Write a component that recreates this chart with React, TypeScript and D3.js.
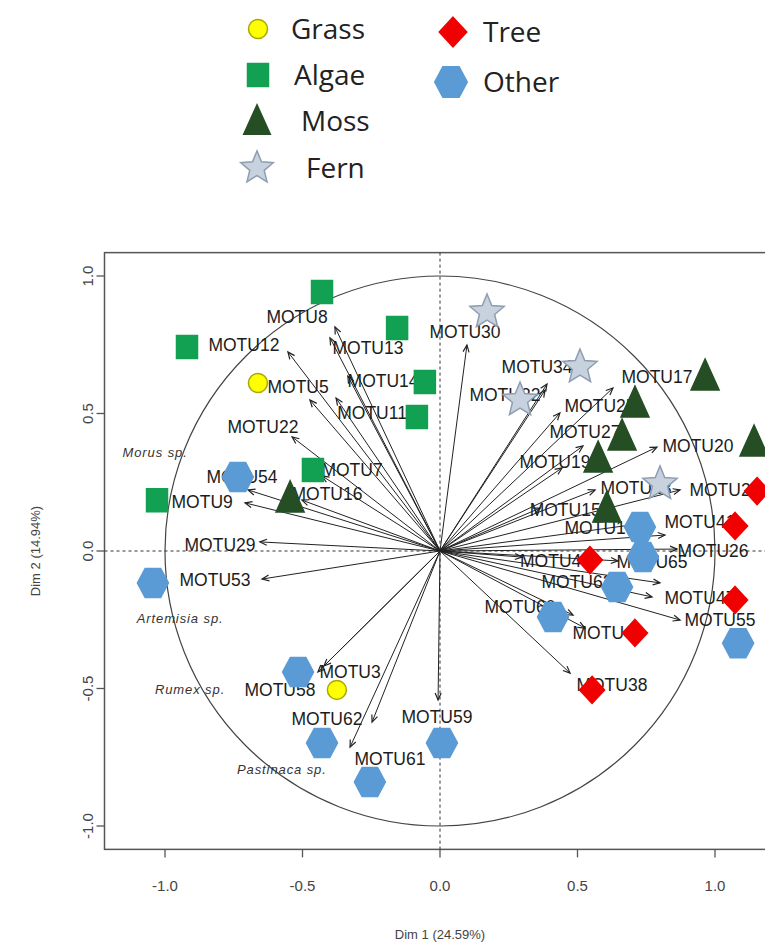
import React, { useEffect, useRef } from 'react';
import * as d3 from 'd3';

// Variable arrows (correlation circle): arrow tip and label centre, in Dim units
const motuNames = [
  'MOTU8', 'MOTU13', 'MOTU14', 'MOTU11', 'MOTU12', 'MOTU5', 'MOTU22', 'MOTU7', 'MOTU16', 'MOTU54',
  'MOTU9', 'MOTU29', 'MOTU53', 'MOTU30', 'MOTU34', 'MOTU32', 'MOTU17', 'MOTU25', 'MOTU27', 'MOTU19',
  'MOTU20', 'MOTU23', 'MOTU21', 'MOTU15', 'MOTU41', 'MOTU10', 'MOTU26', 'MOTU44', 'MOTU65', 'MOTU63',
  'MOTU47', 'MOTU55', 'MOTU60', 'MOTU40', 'MOTU38', 'MOTU59', 'MOTU61', 'MOTU62', 'MOTU3', 'MOTU58',
];
const tipX = [
  -0.382, -0.4, -0.335, -0.378, -0.553, -0.473, -0.538, -0.429, -0.502, -0.698,
  -0.709, -0.655, -0.647, 0.098, 0.389, 0.382, 0.629, 0.436, 0.52, 0.444,
  0.789, 0.564, 0.873, 0.364, 0.771, 0.818, 0.862, 0.298, 0.647, 0.8,
  0.771, 0.873, 0.484, 0.527, 0.473, -0.007, -0.327, -0.247, -0.444, -0.422,
];
const tipY = [
  0.815, 0.775, 0.636, 0.556, 0.724, 0.549, 0.415, 0.273, 0.185, 0.222,
  0.175, 0.033, -0.102, 0.749, 0.607, 0.585, 0.593, 0.502, 0.382, 0.302,
  0.378, 0.222, 0.222, 0.156, 0.105, 0.058, 0.007, -0.022, -0.036, -0.116,
  -0.167, -0.251, -0.233, -0.28, -0.444, -0.542, -0.713, -0.622, -0.44, -0.418,
];
const labelX = [
  -0.52, -0.262, -0.207, -0.247, -0.713, -0.516, -0.644, -0.32, -0.411, -0.72,
  -0.865, -0.8, -0.818, 0.091, 0.353, 0.236, 0.789, 0.582, 0.527, 0.418,
  0.938, 0.713, 1.036, 0.455, 0.945, 0.582, 0.993, 0.42, 0.771, 0.498,
  0.945, 1.018, 0.291, 0.611, 0.625, -0.011, -0.182, -0.411, -0.327, -0.582,
];
const labelY = [
  0.851, 0.738, 0.618, 0.502, 0.749, 0.596, 0.451, 0.295, 0.207, 0.269,
  0.178, 0.022, -0.105, 0.796, 0.669, 0.567, 0.633, 0.527, 0.433, 0.324,
  0.382, 0.229, 0.222, 0.149, 0.105, 0.084, 0.0, -0.036, -0.04, -0.113,
  -0.171, -0.251, -0.204, -0.298, -0.487, -0.604, -0.756, -0.611, -0.44, -0.505,
];

// plant type markers placed beside the arrows
const grassX = [-0.662, -0.375];
const grassY = [0.611, -0.505];
const algaeX = [-0.429, -0.92, -0.156, -0.055, -0.084, -0.462, -1.029];
const algaeY = [0.942, 0.742, 0.811, 0.615, 0.487, 0.295, 0.185];
const mossX = [0.964, 0.709, 0.662, 0.575, 1.142, -0.545, 0.607];
const mossY = [0.636, 0.538, 0.418, 0.338, 0.396, 0.193, 0.156];
const fernX = [0.171, 0.509, 0.291, 0.8];
const fernY = [0.869, 0.669, 0.549, 0.244];
const treeX = [1.153, 1.073, 0.545, 1.073, 0.709, 0.553];
const treeY = [0.218, 0.091, -0.033, -0.178, -0.298, -0.505];
const otherX = [-0.735, -1.044, -0.516, -0.429, -0.255, 0.007, 0.411, 0.644, 0.727, 0.738, 1.084];
const otherY = [0.269, -0.116, -0.44, -0.698, -0.84, -0.698, -0.24, -0.131, 0.087, -0.022, -0.335];

const categories = ['Grass', 'Algae', 'Moss', 'Fern', 'Tree', 'Other'];

// supplementary species names (italic)
const speciesNames = ['Morus sp.', 'Artemisia sp.', 'Rumex sp.', 'Pastinaca sp.'];
const speciesX = [-1.036, -0.945, -0.909, -0.575];
const speciesY = [0.36, -0.244, -0.505, -0.793];

const tickValues = [-1, -0.5, 0, 0.5, 1];
const xTitle = 'Dim 1 (24.59%)';
const yTitle = 'Dim 2 (14.94%)';

const styles: Record<string, { fill: string; stroke: string }> = {
  Grass: { fill: '#ffff00', stroke: '#a9a900' },
  Algae: { fill: '#12a052', stroke: '#12a052' },
  Moss: { fill: '#254e24', stroke: '#254e24' },
  Fern: { fill: '#c7d2de', stroke: '#8e9db0' },
  Tree: { fill: '#f00000', stroke: '#f00000' },
  Other: { fill: '#5b9bd5', stroke: '#5b9bd5' },
};

function shapePath(kind: string, k: number): string {
  if (kind === 'Grass') {
    return d3.symbol(d3.symbolCircle, Math.PI * 9.5 * 9.5 * k * k)() as string;
  }
  if (kind === 'Algae') {
    const w = 10.5 * k, h = 11.5 * k;
    return `M${-w},${-h}H${w}V${h}H${-w}Z`;
  }
  if (kind === 'Moss') {
    return `M0,${-17 * k}L${14 * k},${14 * k}L${-14 * k},${14 * k}Z`;
  }
  if (kind === 'Fern') {
    const pts: string[] = [];
    for (let i = 0; i < 10; i++) {
      const r = (i % 2 === 0 ? 18 : 8) * k;
      const a = -Math.PI / 2 + (i * Math.PI) / 5;
      pts.push(`${r * Math.cos(a)},${r * Math.sin(a)}`);
    }
    return `M${pts.join('L')}Z`;
  }
  if (kind === 'Tree') {
    const rx = 12.5 * k, ry = 13.5 * k;
    return `M0,${-ry}L${rx},0L0,${ry}L${-rx},0Z`;
  }
  const rx = 15.5 * k, ry = 14.5 * k;
  return `M${rx},0L${rx / 2},${-ry}L${-rx / 2},${-ry}L${-rx},0L${-rx / 2},${ry}L${rx / 2},${ry}Z`;
}

const App: React.FC = () => {
  const ref = useRef<SVGSVGElement>(null);

  useEffect(() => {
    const svg = d3.select(ref.current);
    svg.selectAll('*').remove();

    const x = d3.scaleLinear().domain([-1, 1]).range([165, 715]);
    const y = d3.scaleLinear().domain([-1, 1]).range([826, 276]);
    const font = '"Liberation Sans", Arial, sans-serif';

    svg.append('rect').attr('width', 765).attr('height', 948).attr('fill', '#fff');

    // arrowhead
    svg
      .append('defs')
      .append('marker')
      .attr('id', 'arr')
      .attr('markerUnits', 'userSpaceOnUse')
      .attr('markerWidth', 12)
      .attr('markerHeight', 12)
      .attr('refX', 0)
      .attr('refY', 0)
      .attr('viewBox', '-10 -6 12 12')
      .attr('orient', 'auto')
      .append('path')
      .attr('d', 'M-7,-3L0,0L-7,3')
      .attr('fill', 'none')
      .attr('stroke', '#222')
      .attr('stroke-width', 1.2);

    // plot frame
    const x0 = x(-1.22), x1 = x(1.24), y0 = y(1.085), y1 = y(-1.085);
    svg
      .append('rect')
      .attr('x', x0)
      .attr('y', y0)
      .attr('width', x1 - x0)
      .attr('height', y1 - y0)
      .attr('fill', 'none')
      .attr('stroke', '#555')
      .attr('stroke-width', 1.5);

    // ticks and tick labels
    tickValues.forEach((t) => {
      svg.append('line').attr('x1', x(t)).attr('x2', x(t)).attr('y1', y1).attr('y2', y1 + 8)
        .attr('stroke', '#555').attr('stroke-width', 1.3);
      svg.append('text').attr('x', x(t)).attr('y', 891).attr('text-anchor', 'middle')
        .attr('font-family', font).attr('font-size', 15).attr('fill', '#444')
        .text(t.toFixed(1));
      svg.append('line').attr('x1', x0 - 8).attr('x2', x0).attr('y1', y(t)).attr('y2', y(t))
        .attr('stroke', '#555').attr('stroke-width', 1.3);
      svg.append('text').attr('transform', `translate(93,${y(t)}) rotate(-90)`)
        .attr('text-anchor', 'middle').attr('font-family', font).attr('font-size', 15)
        .attr('fill', '#444').text(t.toFixed(1));
    });

    svg.append('text').attr('x', x(0)).attr('y', 939).attr('text-anchor', 'middle')
      .attr('font-family', font).attr('font-size', 13).attr('fill', '#444').text(xTitle);
    svg.append('text').attr('transform', `translate(40,${y(0)}) rotate(-90)`)
      .attr('text-anchor', 'middle').attr('font-family', font).attr('font-size', 13)
      .attr('fill', '#444').text(yTitle);

    // unit circle
    svg.append('ellipse').attr('cx', x(0)).attr('cy', y(0))
      .attr('rx', x(1) - x(0)).attr('ry', y(0) - y(1))
      .attr('fill', 'none').attr('stroke', '#444').attr('stroke-width', 1.2);

    // dashed axes through origin
    svg.append('line').attr('x1', x0).attr('x2', x1).attr('y1', y(0)).attr('y2', y(0))
      .attr('stroke', '#333').attr('stroke-dasharray', '3,3');
    svg.append('line').attr('x1', x(0)).attr('x2', x(0)).attr('y1', y0).attr('y2', y1)
      .attr('stroke', '#333').attr('stroke-dasharray', '3,3');

    // arrows
    motuNames.forEach((_, i) => {
      svg.append('line')
        .attr('x1', x(0)).attr('y1', y(0))
        .attr('x2', x(tipX[i])).attr('y2', y(tipY[i]))
        .attr('stroke', '#222').attr('stroke-width', 1)
        .attr('marker-end', 'url(#arr)');
    });

    // variable labels
    motuNames.forEach((name, i) => {
      svg.append('text')
        .attr('x', x(labelX[i])).attr('y', y(labelY[i]))
        .attr('dy', '0.36em').attr('text-anchor', 'middle')
        .attr('font-family', font).attr('font-size', 17.5).attr('fill', '#1c1c1c')
        .text(name);
    });

    // species names
    speciesNames.forEach((name, i) => {
      svg.append('text')
        .attr('x', x(speciesX[i])).attr('y', y(speciesY[i]))
        .attr('dy', '0.35em').attr('text-anchor', 'middle')
        .attr('font-family', font).attr('font-size', 13).attr('font-style', 'italic')
        .attr('letter-spacing', 0.9)
        .attr('fill', '#333').text(name);
    });

    // markers
    const groups: [string, number[], number[]][] = [
      ['Grass', grassX, grassY],
      ['Algae', algaeX, algaeY],
      ['Moss', mossX, mossY],
      ['Fern', fernX, fernY],
      ['Tree', treeX, treeY],
      ['Other', otherX, otherY],
    ];
    groups.forEach(([kind, xs, ys]) => {
      xs.forEach((vx, i) => {
        svg.append('path')
          .attr('d', shapePath(kind, 1))
          .attr('transform', `translate(${x(vx)},${y(ys[i])})`)
          .attr('fill', styles[kind].fill)
          .attr('stroke', styles[kind].stroke)
          .attr('stroke-width', 1.5);
      });
    });

    // legend
    const legendLayout = [
      { cx: 258, cy: 29, tx: 291, k: 1.0 },
      { cx: 258, cy: 75, tx: 294, k: 1.0 },
      { cx: 257, cy: 121, tx: 301, k: 0.95 },
      { cx: 257, cy: 168, tx: 306, k: 0.95 },
      { cx: 453, cy: 32, tx: 483, k: 1.1 },
      { cx: 451, cy: 82, tx: 483, k: 1.05 },
    ];
    categories.forEach((c, i) => {
      const L = legendLayout[i];
      svg.append('path')
        .attr('d', shapePath(c, L.k))
        .attr('transform', `translate(${L.cx},${L.cy})`)
        .attr('fill', styles[c].fill)
        .attr('stroke', styles[c].stroke)
        .attr('stroke-width', 1.5);
      svg.append('text')
        .attr('x', L.tx).attr('y', L.cy).attr('dy', '0.35em')
        .attr('font-family', '"Open Sans", sans-serif').attr('font-size', 28)
        .attr('fill', '#222').text(c);
    });
  }, []);

  return (
    <svg
      ref={ref}
      width={765}
      height={948}
      style={{ position: 'absolute', left: 0, top: 0 }}
    />
  );
};

export default App;
